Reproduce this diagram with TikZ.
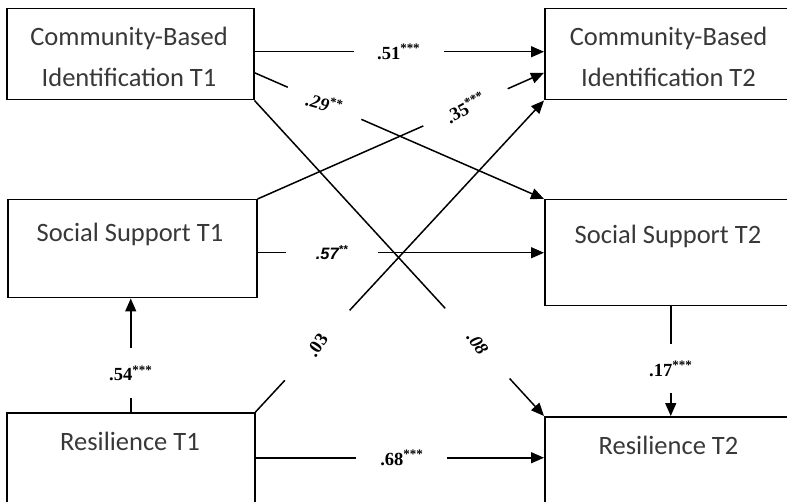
\documentclass[tikz,border=0pt]{standalone}
\usepackage{fontspec}
\setmainfont{Liberation Serif}
\newfontfamily\boxfont{Carlito}
\newfontfamily\labsans{Liberation Sans}
\usetikzlibrary{arrows.meta}
\begin{document}
\begin{tikzpicture}[x=1pt,y=-1pt,
  box/.style={draw, line width=1.5pt, inner sep=0pt, anchor=north west},
  boxtxt/.style={anchor=base, inner sep=0pt, text=black!78, font=\boxfont\fontsize{26.5}{30}\selectfont},
  conn/.style={line width=1.5pt, -{Triangle[length=13pt,width=11pt]}},
  gap/.style={fill=white, inner sep=0pt, text=black, font=\bfseries\fontsize{18.5}{18.5}\selectfont}
]
\useasboundingbox (0,0) rectangle (787,502);
\clip (0,0) rectangle (787,502);

% boxes
\node[box, minimum width=247pt, minimum height=91pt]  (cbi1) at (6,8) {};
\node[box, minimum width=249pt, minimum height=91pt]  (cbi2) at (544,8) {};
\node[box, minimum width=249pt, minimum height=98pt]  (ss1)  at (7,199) {};
\node[box, minimum width=249pt, minimum height=106pt] (ss2)  at (544,199) {};
\node[box, minimum width=248pt, minimum height=108pt] (res1) at (6,412) {};
\node[box, minimum width=249pt, minimum height=104pt] (res2) at (544,416) {};

% box texts
\node[boxtxt] (t1a) at (129,45.7) {Community-Based};
\node[boxtxt] (t1b) at (129,86.7) {Identification T1};
\node[boxtxt] (t2a) at (668.5,45.7) {Community-Based};
\node[boxtxt] (t2b) at (668.5,86.7) {Identification T2};
\node[boxtxt] (t3) at (130,242) {Social Support T1};
\node[boxtxt] (t4) at (668,244) {Social Support T2};
\node[boxtxt] (t5) at (130,450) {Resilience T1};
\node[boxtxt] (t6) at (668.5,454) {Resilience T2};

% connectors
\draw[conn] ([yshift=2.5pt]cbi1.east) -- node[gap, pos=0.498, minimum width=90pt, minimum height=20pt] (l51) {.51\textsuperscript{***}} ([yshift=2.5pt]cbi2.west);
\draw[conn] ([yshift=-18.5pt]cbi1.east) -- node[gap, sloped, pos=0.242, minimum width=80pt] (l29) {\rotatebox{8}{\textit{.29}\textsuperscript{**}}} (ss2.north west);
\draw[conn] (cbi1.south east) -- node[gap, sloped, pos=0.77, minimum width=95pt] (l08) {\rotatebox{-8}{\textit{.08}}} (res2.north west);
\draw[conn] (ss1.north east) -- node[gap, sloped, pos=0.726, minimum width=92pt] (l35) {\rotatebox{5}{.35\textsuperscript{***}}} ([yshift=-18.5pt]cbi2.west);
\draw[conn] ([yshift=-4pt]ss1.east) -- node[gap, pos=0.26, minimum width=92pt, minimum height=20pt, font=\labsans\bfseries\itshape\fontsize{16.5}{16.5}\selectfont] (l57) {.57\textsuperscript{**}} (ss2.west);
\draw[conn] (res1.north east) -- node[gap, sloped, pos=0.214, minimum width=95pt] (l03) {\rotatebox{8}{.03}} (cbi2.south west);
\draw[conn] (res1.north) -- node[gap, pos=0.34, minimum height=50pt] (l54) {.54\textsuperscript{***}} (res1.north |- ss1.south);
\draw[conn] ([xshift=1.5pt]ss2.south) -- node[gap, pos=0.57, minimum height=49pt] (l17) {.17\textsuperscript{***}} ([xshift=1.5pt]ss2.south |- res2.north);
\draw[conn] ([yshift=9pt]res1.east) -- node[gap, pos=0.507, minimum width=91pt, minimum height=20pt] (l68) {.68\textsuperscript{***}} ([yshift=11pt]res2.west);
\end{tikzpicture}
\end{document}
